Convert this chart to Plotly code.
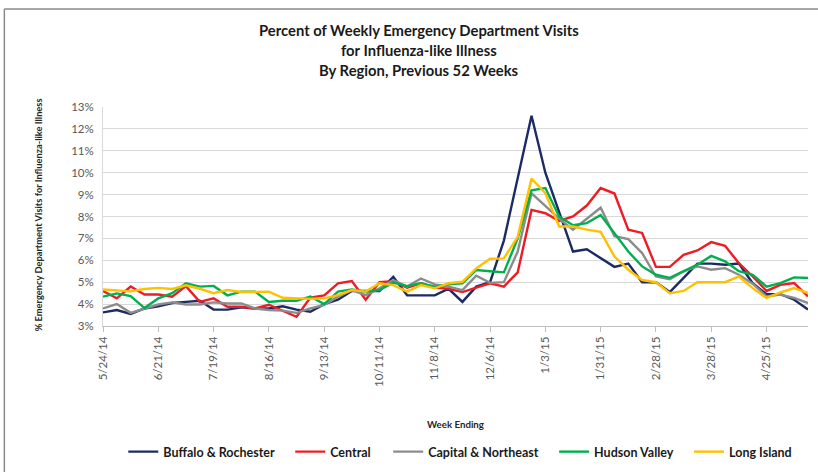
import plotly.graph_objects as go

weeks = ["5/24/14","5/31/14","6/7/14","6/14/14","6/21/14","6/28/14","7/5/14","7/12/14",
         "7/19/14","7/26/14","8/2/14","8/9/14","8/16/14","8/23/14","8/30/14","9/6/14",
         "9/13/14","9/20/14","9/27/14","10/4/14","10/11/14","10/18/14","10/25/14","11/1/14",
         "11/8/14","11/15/14","11/22/14","11/29/14","12/6/14","12/13/14","12/20/14","12/27/14",
         "1/3/15","1/10/15","1/17/15","1/24/15","1/31/15","2/7/15","2/14/15","2/21/15",
         "2/28/15","3/7/15","3/14/15","3/21/15","3/28/15","4/4/15","4/11/15","4/18/15",
         "4/25/15","5/2/15","5/9/15","5/16/15"]

buffalo = [3.62,3.73,3.55,3.8,3.9,4.05,4.1,4.15,3.75,3.75,3.85,3.8,3.8,3.9,3.75,3.65,
           4.0,4.2,4.6,4.6,4.6,5.25,4.4,4.4,4.4,4.7,4.1,4.8,5.0,6.9,9.7,12.6,
           10.0,8.2,6.4,6.5,6.1,5.7,5.85,5.0,5.0,4.55,5.2,5.85,5.85,5.8,5.85,4.95,
           4.45,4.45,4.2,3.75]
central = [4.6,4.26,4.8,4.44,4.44,4.34,4.82,4.1,4.26,3.88,3.88,3.8,3.97,3.68,3.42,4.3,
           4.4,4.95,5.05,4.2,5.0,5.05,4.75,4.95,4.75,4.7,4.55,4.75,4.95,4.8,5.45,8.3,
           8.15,7.8,8.0,8.5,9.3,9.05,7.4,7.25,5.7,5.7,6.25,6.45,6.83,6.66,5.87,5.26,
           4.6,4.88,4.96,4.35]
capital = [3.8,4.0,3.6,3.78,3.98,4.08,3.98,3.98,4.08,4.03,4.03,3.8,3.73,3.7,3.6,3.8,
           3.96,4.34,4.64,4.41,4.72,5.1,4.8,5.17,4.9,4.8,4.64,5.3,4.97,5.0,6.4,9.06,
           8.5,7.9,7.4,7.9,8.4,7.1,6.97,6.33,5.26,5.14,5.5,5.72,5.57,5.64,5.34,4.93,
           4.35,4.43,4.28,4.05]
hudson = [4.34,4.49,4.37,3.82,4.26,4.5,4.95,4.8,4.83,4.4,4.57,4.57,4.1,4.15,4.15,4.35,
          4.0,4.57,4.67,4.57,4.64,4.98,4.82,4.95,4.8,4.9,4.95,5.56,5.5,5.45,7.0,9.2,
          9.3,8.0,7.6,7.7,8.07,7.24,6.4,5.72,5.34,5.2,5.5,5.8,6.2,5.95,5.5,5.34,
          4.8,4.96,5.22,5.19]
longisland = [4.67,4.64,4.58,4.69,4.74,4.69,4.86,4.7,4.5,4.64,4.55,4.55,4.57,4.29,4.26,4.24,
              4.26,4.41,4.64,4.57,4.95,4.87,4.57,4.87,4.72,4.95,5.02,5.63,6.07,6.09,7.07,9.73,
              9.06,7.54,7.54,7.4,7.3,6.17,5.57,5.1,5.0,4.5,4.6,5.0,5.0,5.0,5.26,4.73,
              4.28,4.53,4.73,4.5]

series_names = ["Buffalo & Rochester", "Central", "Capital & Northeast", "Hudson Valley", "Long Island"]
series_vals = [buffalo, central, capital, hudson, longisland]
colors = ["#1c2b63", "#ee1c25", "#8c8c8c", "#00b050", "#ffc000"]

y_ticks = [3,4,5,6,7,8,9,10,11,12,13]
y_ticktext = [f"{v}%" for v in y_ticks]

idx = list(range(len(weeks)))
tick_idx = idx[::4]

# plot geometry in px
L, R, T, B = 102.7, 808.0, 107.0, 326.0
W, H = 818, 472

def px(p):
    return (p - L) / (R - L)

def py(p):
    return (B - p) / (B - T)

font_family = "Lato, 'Open Sans', sans-serif"

# legend text start positions (px) for each separate legend box
legend_text_x = [163, 330, 428, 594, 729]

fig = go.Figure()
legend_layouts = {}
for i, (name, vals, c) in enumerate(zip(series_names, series_vals, colors)):
    lname = "legend" if i == 0 else f"legend{i+1}"
    fig.add_trace(go.Scatter(x=idx, y=vals, mode="lines", name=name, legend=lname,
                             line=dict(color=c, width=2.4)))
    legend_layouts[lname] = dict(
        orientation="h", x=px(legend_text_x[i] - 40), xanchor="left",
        y=py(452), yanchor="middle", itemwidth=30,
        font=dict(family=font_family, size=12.5, color="#1a1a1a", weight="bold"),
        bgcolor="rgba(0,0,0,0)", borderwidth=0)

fig.update_layout(
    width=W, height=H,
    margin=dict(l=L, r=W - R, t=T, b=H - B, pad=0, autoexpand=False),
    paper_bgcolor="white", plot_bgcolor="white",
    font=dict(family=font_family, color="#595959"),
    showlegend=True,
    xaxis=dict(range=[0, len(weeks) - 1], tickmode="array", tickvals=tick_idx,
               ticktext=[weeks[i] for i in tick_idx], tickangle=-90,
               tickfont=dict(size=11.5, color="#595959"),
               showgrid=False, showline=True, linecolor="#bfbfbf", linewidth=1,
               ticks="outside", ticklen=5, tickcolor="#bfbfbf", zeroline=False,
               automargin=False),
    yaxis=dict(range=[3, 13], tickmode="array", tickvals=y_ticks, ticktext=y_ticktext,
               tickfont=dict(size=11.5, color="#595959"),
               showgrid=True, gridcolor="#d9d9d9", gridwidth=1,
               showline=True, linecolor="#d9d9d9", zeroline=False, ticks="",
               ticklabelstandoff=6, automargin=False),
    **legend_layouts,
)

title_lines = [("Percent of Weekly Emergency Department Visits", 30),
               ("for Influenza-like Illness", 50),
               ("By Region, Previous 52 Weeks", 70)]
for txt, yy in title_lines:
    fig.add_annotation(text=txt, x=px(419), y=py(yy), xref="paper", yref="paper",
                       showarrow=False, xanchor="center", yanchor="middle",
                       font=dict(family=font_family, size=14.8, color="#1a1a1a", weight="bold"))

fig.add_annotation(text="Week Ending", x=px(455), y=py(424), xref="paper", yref="paper",
                   showarrow=False, xanchor="center", yanchor="middle",
                   font=dict(family=font_family, size=9.7, color="#262626", weight="bold"))
fig.add_annotation(text="% Emergency Department Visits for Influenza-like Illness",
                   x=px(38), y=py(215), xref="paper", yref="paper", textangle=-90,
                   showarrow=False, xanchor="center", yanchor="middle",
                   font=dict(family=font_family, size=9.3, color="#262626", weight="bold"))

# outer frame lines
fig.add_shape(type="line", xref="paper", yref="paper", x0=px(4), x1=px(818), y0=py(9), y1=py(9),
              line=dict(color="#8a8a8a", width=1.5))
fig.add_shape(type="line", xref="paper", yref="paper", x0=px(4), x1=px(4), y0=py(9), y1=py(472),
              line=dict(color="#8a8a8a", width=1.5))

fig.write_html("out.html", config={"displayModeBar": False},
               post_script="document.body.style.margin='0';")
